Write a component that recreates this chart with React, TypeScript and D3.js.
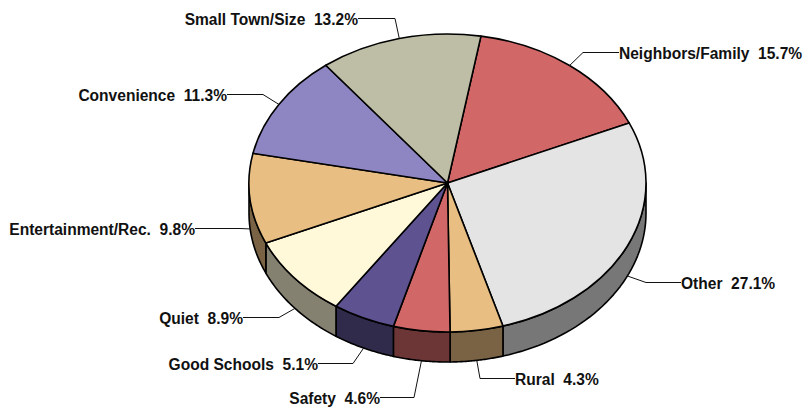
import { useEffect, useRef } from "react";
import { select, pie, arc, line, range, color as d3color } from "d3";

const categories = [
  "Neighbors/Family",
  "Other",
  "Rural",
  "Safety",
  "Good Schools",
  "Quiet",
  "Entertainment/Rec.",
  "Convenience",
  "Small Town/Size",
];
const shares = [15.7, 27.1, 4.3, 4.6, 5.1, 8.9, 9.8, 11.3, 13.2];
const topColors = [
  "#D16767",
  "#E4E4E4",
  "#E8BE82",
  "#D16767",
  "#5E5291",
  "#FFF8D9",
  "#E8BE82",
  "#8E86C2",
  "#BEBEA6",
];

// label anchor and elbow of each leader
const labelX = [619, 681, 515, 380, 318, 243, 195, 227, 358];
const labelY = [53, 283, 379, 398, 364, 318, 229, 95, 19];
const elbowX = [583, 646, 480, 414, 353, 279, 240, 263, 395];

const size = { w: 803, h: 409 };
const cx = 447.5;
const cy = 183;
const rx = 198.5;
const ry = 149;
const depth = 30;
const startDeg = 9.7;

const drawPie = (ref: SVGSVGElement) => {
  const svg = select(ref);
  svg.selectAll("*").remove();

  const slices = pie<number>()
    .sort(null)
    .startAngle((startDeg * Math.PI) / 180)
    .endAngle(((startDeg + 360) * Math.PI) / 180)(shares);

  const px = (t: number) => cx + rx * Math.sin(t);
  const py = (t: number) => cy - ry * Math.cos(t);

  // side wall, only the front half of the rim shows
  const wall = line<number[]>()
    .x((d) => d[0])
    .y((d) => d[1]);
  const frontA = Math.PI / 2;
  const frontB = (3 * Math.PI) / 2;

  const sides = svg.append("g");
  slices.forEach((s, i) => {
    const a = Math.max(s.startAngle, frontA);
    const b = Math.min(s.endAngle, frontB);
    if (b <= a) return;
    const steps = range(0, 41).map((k) => a + ((b - a) * k) / 40);
    const upper = steps.map((t) => [px(t), py(t)]);
    const lower = steps
      .slice()
      .reverse()
      .map((t) => [px(t), py(t) + depth]);
    const c = d3color(topColors[i])!.rgb();
    const f = 0.52;
    sides
      .append("path")
      .attr("d", wall([...upper, ...lower])! + "Z")
      .attr("fill", `rgb(${c.r * f},${c.g * f},${c.b * f})`)
      .attr("stroke", "#000")
      .attr("stroke-width", 1.6)
      .attr("stroke-linejoin", "round");
  });

  // top face: circle arcs squashed into the ellipse
  const arcGen = arc<any>().innerRadius(0).outerRadius(rx);
  svg
    .append("g")
    .attr("transform", `translate(${cx},${cy}) scale(1,${ry / rx})`)
    .selectAll("path")
    .data(slices)
    .join("path")
    .attr("d", (d) => arcGen(d))
    .attr("fill", (d, i) => topColors[i])
    .attr("stroke", "#000")
    .attr("stroke-width", 1.6)
    .attr("stroke-linejoin", "round")
    .attr("vector-effect", "non-scaling-stroke");

  // leaders + labels
  const g = svg.append("g");
  slices.forEach((s, i) => {
    const mid = (s.startAngle + s.endAngle) / 2;
    const inFront = Math.cos(mid) < 0;
    const onLeft = labelX[i] < elbowX[i];
    const ex = px(mid);
    const ey = py(mid) + (inFront ? depth : 0);
    const ly = labelY[i] - 0.5;
    g.append("polyline")
      .attr("points", `${ex},${ey} ${elbowX[i]},${ly} ${labelX[i]},${ly}`)
      .attr("fill", "none")
      .attr("stroke", "#111")
      .attr("stroke-width", 1);
    g.append("text")
      .attr(
        "transform",
        `translate(${labelX[i] + (onLeft ? 0 : 0)},${labelY[i] + 6}) scale(0.915,1)`
      )
      .attr("text-anchor", onLeft ? "end" : "start")
      .attr("font-family", "'Liberation Sans', Arial, sans-serif")
      .attr("font-weight", 700)
      .attr("font-size", 17)
      .attr("fill", "#111")
      .style("white-space", "pre")
      .text(`${categories[i]}  ${shares[i].toFixed(1)}%`);
  });
};

export default function App() {
  const ref = useRef<SVGSVGElement>(null);

  useEffect(() => {
    if (ref.current) drawPie(ref.current);
  }, []);

  return (
    <svg
      ref={ref}
      width={size.w}
      height={size.h}
      style={{ position: "absolute", left: 0, top: 0, background: "#fff" }}
    />
  );
}
